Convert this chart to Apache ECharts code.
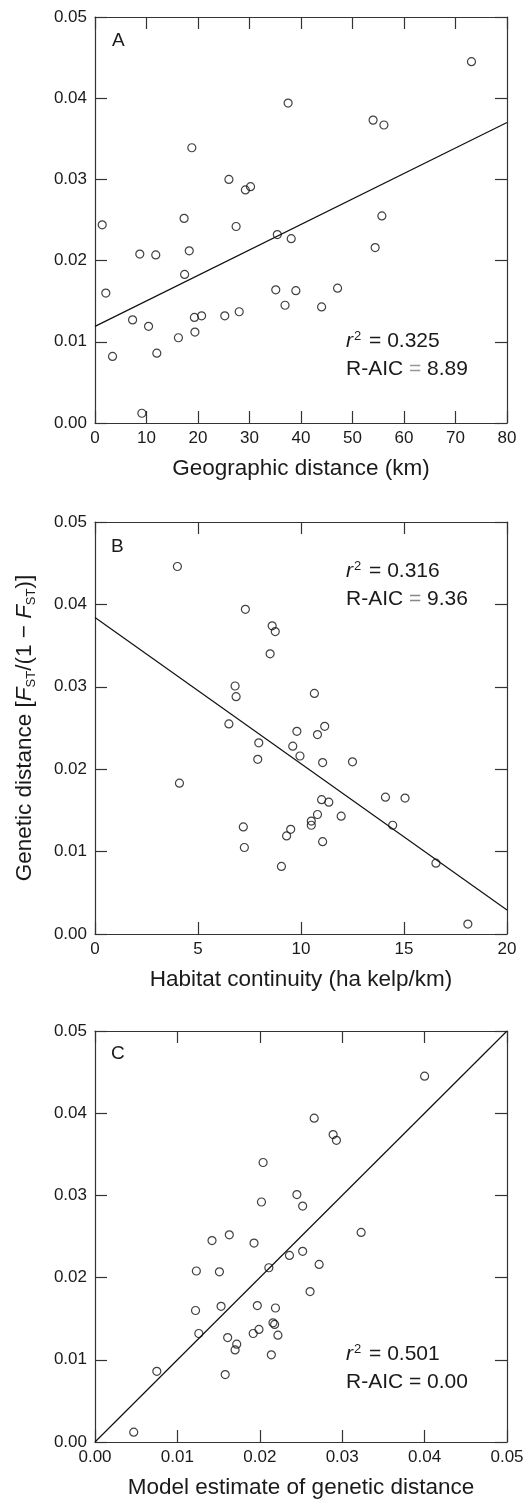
<!DOCTYPE html>
<html>
<head>
<meta charset="utf-8">
<script src="https://cdn.jsdelivr.net/npm/echarts@6/dist/echarts.min.js"></script>
<style>
html,body{margin:0;padding:0;background:#fff;}
#chart{width:528px;height:1500px;}
</style>
</head>
<body>
<div id="chart"></div>
<script>
// ---- Panel A: Geographic distance (km) vs genetic distance ----
const panelA_x = [73.1, 37.5, 54.0, 56.1, 18.8, 26.0, 29.2, 30.2, 1.4, 17.3, 27.4, 35.4, 38.1, 55.7, 54.4, 18.3, 8.7, 11.8, 17.4, 2.1, 35.1, 39.0, 47.1, 36.9, 44.0, 7.3, 10.4, 19.3, 20.7, 25.2, 28.0, 16.2, 19.4, 3.4, 12.0, 9.1];
const panelA_y = [0.0445, 0.0394, 0.0373, 0.0367, 0.0339, 0.0300, 0.0287, 0.0291, 0.0244, 0.0252, 0.0242, 0.0232, 0.0227, 0.0255, 0.0216, 0.0212, 0.0208, 0.0207, 0.0183, 0.0160, 0.0164, 0.0163, 0.0166, 0.0145, 0.0143, 0.0127, 0.0119, 0.0130, 0.0132, 0.0132, 0.0137, 0.0105, 0.0112, 0.0082, 0.0086, 0.0012];
const panelA_fit = [[0, 0.0119], [80, 0.0370]];

// ---- Panel B: Habitat continuity (ha kelp/km) ----
const panelB_x = [4.0, 7.3, 8.6, 8.75, 8.5, 6.8, 6.85, 10.65, 6.5, 11.15, 9.8, 10.8, 7.95, 9.6, 9.95, 7.9, 11.05, 12.5, 4.1, 11.0, 11.35, 14.1, 15.05, 10.8, 11.95, 10.5, 10.5, 14.45, 7.2, 9.5, 9.3, 7.25, 11.05, 9.05, 16.55, 18.1];
const panelB_y = [0.0446, 0.0394, 0.0374, 0.0367, 0.0340, 0.0301, 0.0288, 0.0292, 0.0255, 0.0252, 0.0246, 0.0242, 0.0232, 0.0228, 0.0216, 0.0212, 0.0208, 0.0209, 0.0183, 0.0163, 0.0160, 0.0166, 0.0165, 0.0145, 0.0143, 0.0137, 0.0132, 0.0132, 0.0130, 0.0127, 0.0119, 0.0105, 0.0112, 0.0082, 0.0086, 0.0012];
const panelB_fit = [[0, 0.0384], [20, 0.0029]];

// ---- Panel C: Model estimate of genetic distance ----
const panelC_x = [0.0400, 0.0266, 0.0289, 0.0293, 0.0204, 0.0245, 0.0202, 0.0252, 0.0323, 0.0163, 0.0142, 0.0193, 0.0252, 0.0236, 0.0272, 0.0211, 0.0123, 0.0151, 0.0261, 0.0122, 0.0153, 0.0197, 0.0219, 0.0216, 0.0218, 0.0126, 0.0192, 0.0199, 0.0222, 0.0161, 0.0172, 0.0170, 0.0214, 0.0075, 0.0158, 0.0047];
const panelC_y = [0.0445, 0.0394, 0.0374, 0.0367, 0.0340, 0.0301, 0.0292, 0.0287, 0.0255, 0.0252, 0.0245, 0.0242, 0.0232, 0.0227, 0.0216, 0.0212, 0.0208, 0.0207, 0.0183, 0.0160, 0.0165, 0.0166, 0.0163, 0.0145, 0.0143, 0.0132, 0.0132, 0.0137, 0.0130, 0.0127, 0.0119, 0.0112, 0.0106, 0.0086, 0.0082, 0.0012];
const panelC_fit = [[0, 0], [0.05, 0.05]];

// ---- axis ranges / labels ----
const xRanges = [{min: 0, max: 80, interval: 10, dec: 0}, {min: 0, max: 20, interval: 5, dec: 0}, {min: 0, max: 0.05, interval: 0.01, dec: 2}];
const yRange = {min: 0, max: 0.05, interval: 0.01, dec: 2};
const xTitles = ['Geographic distance (km)', 'Habitat continuity (ha kelp/km)', 'Model estimate of genetic distance'];
const panelLetters = ['A', 'B', 'C'];
const r2Values = ['0.325', '0.316', '0.501'];
const raicValues = ['8.89', '9.36', '0.00'];

const FONT = "'Liberation Sans', Arial, Helvetica, sans-serif";
const INK = '#1a1a1a';
const eqColors = ['#999', '#888', INK];
const grids = [
  {left: 95, width: 412, top: 17, height: 406},
  {left: 95, width: 412, top: 522, height: 412},
  {left: 95, width: 412, top: 1031, height: 412}
];

function mkX(i, pos) {
  const r = xRanges[i];
  const bottom = pos === 'bottom';
  return {
    type: 'value', gridIndex: i, position: pos, min: r.min, max: r.max, interval: r.interval,
    splitLine: {show: false},
    axisLine: {show: true, onZero: false, lineStyle: {color: '#333', width: 1.2}},
    axisTick: {show: true, inside: true, length: 12, lineStyle: {color: '#333', width: 1.2}},
    axisLabel: {show: bottom, margin: 7, fontSize: 17, fontFamily: FONT, color: INK,
      formatter: v => v.toFixed(r.dec), showMinLabel: true, showMaxLabel: true},
    name: bottom ? xTitles[i] : '', nameLocation: 'middle', nameGap: 34,
    nameTextStyle: {fontSize: 22.5, fontFamily: FONT, color: INK}
  };
}
function mkY(i, pos) {
  const left = pos === 'left';
  const o = {
    type: 'value', gridIndex: i, position: pos, min: yRange.min, max: yRange.max, interval: yRange.interval,
    splitLine: {show: false},
    axisLine: {show: true, onZero: false, lineStyle: {color: '#333', width: 1.2}},
    axisTick: {show: true, inside: true, length: 12, lineStyle: {color: '#333', width: 1.2}},
    axisLabel: {show: left, margin: 8, fontSize: 17, fontFamily: FONT, color: INK,
      formatter: v => v.toFixed(yRange.dec), showMinLabel: true, showMaxLabel: true}
  };
  if (left && i === 1) {
    o.name = '{t|Genetic distance [}{i|F}{s|ST}{t|/(1 − }{i|F}{s|ST}{t|)]}';
    o.nameLocation = 'middle';
    o.nameRotate = 90;
    o.nameGap = 57;
    o.nameTextStyle = {
      fontSize: 22.5, fontFamily: FONT, color: INK,
      rich: {
        t: {fontSize: 22.5, fontFamily: FONT, color: INK, lineHeight: 26},
        i: {fontSize: 22.5, fontFamily: FONT, color: INK, fontStyle: 'italic', lineHeight: 26},
        s: {fontSize: 13, fontFamily: FONT, color: INK, lineHeight: 26, verticalAlign: 'bottom', padding: [10, 0, 0, 0]}
      }
    };
  }
  return o;
}

const xAxes = [], yAxes = [];
for (let i = 0; i < 3; i++) xAxes.push(mkX(i, 'bottom'));
for (let i = 0; i < 3; i++) xAxes.push(mkX(i, 'top'));
for (let i = 0; i < 3; i++) yAxes.push(mkY(i, 'left'));
for (let i = 0; i < 3; i++) yAxes.push(mkY(i, 'right'));

const xs = [panelA_x, panelB_x, panelC_x];
const ys = [panelA_y, panelB_y, panelC_y];
const fits = [panelA_fit, panelB_fit, panelC_fit];
const series = [];
for (let i = 0; i < 3; i++) {
  series.push({
    type: 'line', xAxisIndex: i, yAxisIndex: i, data: fits[i], symbol: 'none', silent: true,
    lineStyle: {color: '#111', width: 1.2}, z: 2
  });
  series.push({
    type: 'scatter', xAxisIndex: i, yAxisIndex: i,
    data: xs[i].map((x, k) => [x, ys[i][k]]),
    symbol: 'circle', symbolSize: 8,
    itemStyle: {color: 'rgba(255,255,255,0)', borderColor: '#111', borderWidth: 1.2}, z: 3
  });
}

// annotation text placement (pixels)
const letterPos = [[112, 31], [111, 537], [111, 1044]];
const statPos = [[346, 327], [346, 557], [346, 1340]];
const graphics = [];
for (let i = 0; i < 3; i++) {
  graphics.push({
    type: 'text', left: letterPos[i][0], top: letterPos[i][1], silent: true,
    style: {text: panelLetters[i], fontSize: 19, fontFamily: FONT, fill: INK}
  });
  graphics.push({
    type: 'text', left: statPos[i][0], top: statPos[i][1], silent: true,
    style: {
      text: '{i|r}{sup|2}{n| = ' + r2Values[i] + '}\n{n|R-AIC }{g|=}{n| ' + raicValues[i] + '}',
      fontSize: 21, fontFamily: FONT, fill: INK, lineHeight: 28,
      rich: {
        n: {fontSize: 21, fontFamily: FONT, fill: INK, lineHeight: 28},
        g: {fontSize: 21, fontFamily: FONT, fill: eqColors[i], lineHeight: 28},
        i: {fontSize: 21, fontFamily: FONT, fill: INK, fontStyle: 'italic', lineHeight: 28},
        sup: {fontSize: 13, fontFamily: FONT, fill: INK, lineHeight: 28, verticalAlign: 'top', padding: [3, 2, 0, 1]}
      }
    }
  });
}

const chart = echarts.init(document.getElementById('chart'), null, {renderer: 'canvas'});
chart.setOption({
  animation: false,
  backgroundColor: '#fff',
  grid: grids,
  xAxis: xAxes,
  yAxis: yAxes,
  series: series,
  graphic: graphics
});
</script>
</body>
</html>
